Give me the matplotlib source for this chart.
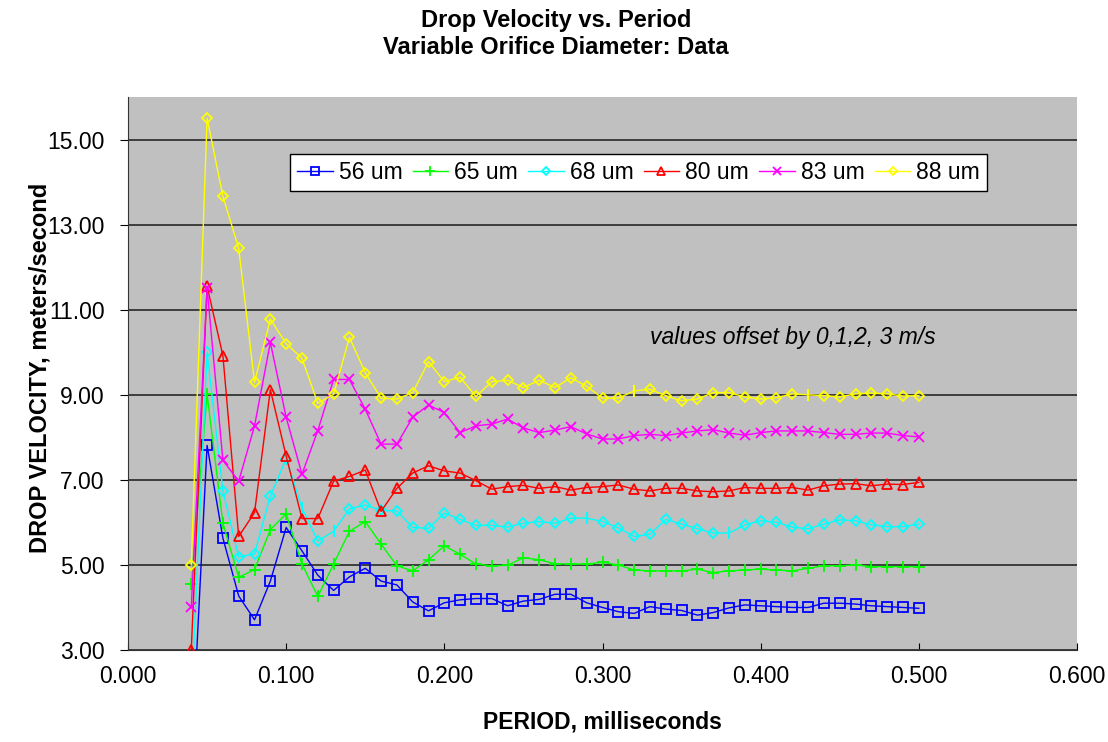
import numpy as np
import matplotlib
matplotlib.use('Agg')
import matplotlib.pyplot as plt
from matplotlib.ticker import FormatStrFormatter

plt.rcParams['font.family'] = ['Liberation Sans', 'DejaVu Sans']

# period, ms (0.04 .. 0.50 step 0.01)
period = [round(0.04 + 0.01 * k, 2) for k in range(47)]

v56 = [0.4, 7.81, 5.63, 4.27, 3.71, 4.62, 5.88, 5.33, 4.76, 4.40, 4.72, 4.92, 4.62, 4.53, 4.13, 3.92,
       4.11, 4.18, 4.21, 4.21, 4.04, 4.15, 4.19, 4.31, 4.31, 4.11, 4.00, 3.90, 3.86, 4.02, 3.96, 3.93,
       3.82, 3.88, 3.99, 4.06, 4.04, 4.02, 4.00, 4.00, 4.10, 4.10, 4.08, 4.04, 4.02, 4.00, 3.98]
v65 = [4.55, 9.01, 5.98, 4.71, 4.89, 5.83, 6.20, 5.02, 4.26, 5.02, 5.79, 6.02, 5.49, 4.98, 4.86, 5.12,
       5.45, 5.25, 5.02, 4.98, 4.99, 5.17, 5.12, 5.03, 5.02, 5.02, 5.06, 5.00, 4.88, 4.86, 4.86, 4.86,
       4.90, 4.82, 4.86, 4.88, 4.90, 4.88, 4.86, 4.92, 4.98, 4.98, 5.00, 4.96, 4.96, 4.96, 4.96]
v68 = [1.8, 10.0, 6.74, 5.19, 5.26, 6.62, 7.50, 6.34, 5.56, 5.79, 6.32, 6.41, 6.28, 6.27, 5.88, 5.86,
       6.22, 6.07, 5.93, 5.93, 5.89, 5.98, 6.02, 5.98, 6.10, 6.10, 6.02, 5.87, 5.67, 5.72, 6.07, 5.96,
       5.85, 5.75, 5.75, 5.94, 6.04, 6.00, 5.89, 5.85, 5.96, 6.06, 6.04, 5.94, 5.90, 5.90, 5.96]
v80 = [3.0, 11.55, 9.92, 5.67, 6.23, 9.12, 7.56, 6.09, 6.09, 6.97, 7.08, 7.23, 6.26, 6.80, 7.16, 7.33,
       7.21, 7.16, 6.98, 6.78, 6.84, 6.87, 6.80, 6.84, 6.76, 6.82, 6.84, 6.88, 6.78, 6.74, 6.80, 6.80,
       6.74, 6.72, 6.74, 6.82, 6.80, 6.80, 6.82, 6.76, 6.86, 6.90, 6.91, 6.86, 6.90, 6.89, 6.94]
v83 = [4.0, 11.51, 7.46, 6.97, 8.27, 10.23, 8.47, 7.13, 8.16, 9.36, 9.36, 8.66, 7.84, 7.84, 8.47, 8.76,
       8.58, 8.11, 8.27, 8.31, 8.43, 8.22, 8.11, 8.17, 8.25, 8.08, 7.96, 7.96, 8.04, 8.07, 8.04, 8.10,
       8.15, 8.18, 8.10, 8.05, 8.11, 8.15, 8.15, 8.15, 8.11, 8.07, 8.07, 8.10, 8.10, 8.04, 8.01]
v88 = [5.0, 15.5, 13.67, 12.44, 9.29, 10.78, 10.2, 9.86, 8.80, 9.01, 10.35, 9.52, 8.92, 8.90, 9.05, 9.78,
       9.31, 9.41, 8.96, 9.31, 9.34, 9.17, 9.34, 9.17, 9.40, 9.20, 8.92, 8.92, 9.09, 9.13, 8.98, 8.86,
       8.90, 9.05, 9.05, 8.95, 8.90, 8.93, 9.02, 9.00, 8.98, 8.95, 9.02, 9.04, 9.02, 8.97, 8.98]

labels = ['56 um', '65 um', '68 um', '80 um', '83 um', '88 um']
series = [v56, v65, v68, v80, v83, v88]
colors = ['#0000FF', '#00FF00', '#00FFFF', '#FF0000', '#FF00FF', '#FFFF00']
markers = ['s', '+', 'D', '^', 'x', 'D']
msizes = [6.5, 8, 5, 7, 7.5, 5]
# points that show a plain tick instead of the series marker
tick_pts = {2: [7, 9, 25, 34], 5: [28, 39]}

fig = plt.figure(figsize=(11.08, 7.42), dpi=100, facecolor='white')
ax = fig.add_axes([128 / 1108, 1 - 650 / 742, 949 / 1108, 553 / 742])
ax.set_facecolor('#C0C0C0')

for n in range(6):
    skip = tick_pts.get(n, [])
    keep = [k for k in range(len(period)) if k not in skip]
    ax.plot(period, series[n], color=colors[n], lw=1, marker=markers[n], ms=msizes[n],
            mfc='none', mec=colors[n], mew=1.3, markevery=keep, label=labels[n], zorder=3 + n)
    if skip:
        ax.plot([period[k] for k in skip], [series[n][k] for k in skip], ls='none',
                marker='|', ms=9, mec=colors[n], mew=1.5, zorder=3 + n)

ax.set_xlim(0, 0.6)
ax.set_ylim(3, 16)
ax.set_xticks(np.arange(0, 0.61, 0.1))
ax.set_yticks(np.arange(3, 16, 2))
ax.xaxis.set_major_formatter(FormatStrFormatter('%.3f'))
ax.yaxis.set_major_formatter(FormatStrFormatter('%.2f'))
ax.grid(axis='y', color='#333333', lw=1.3)
ax.set_axisbelow(True)
for s in ['top', 'right']:
    ax.spines[s].set_visible(False)
for s in ['left', 'bottom']:
    ax.spines[s].set_color('#333333')
ax.tick_params(labelsize=16.5, colors='black')
ax.tick_params(axis='y', direction='out', length=6, pad=11)
ax.tick_params(axis='x', direction='in', length=5, pad=11)

fig.text(602.5 / 1108, 1 - 722 / 742, 'PERIOD, milliseconds', fontsize=16.5,
         fontweight='bold', ha='center', va='center')
fig.text(40 / 1108, 1 - 368 / 742, 'DROP VELOCITY, meters/second', fontsize=17,
         fontweight='bold', ha='center', va='center', rotation=90)
fig.text(0.5 + 2 / 1108, 1 - 20 / 742, 'Drop Velocity vs. Period', fontsize=17,
         fontweight='bold', ha='center', va='center')
fig.text(0.5 + 2 / 1108, 1 - 47 / 742, 'Variable Orifice Diameter: Data', fontsize=17,
         fontweight='bold', ha='center', va='center')

leg = ax.legend(loc='center', bbox_to_anchor=(0.538, 0.864), ncol=6, fontsize=16.5,
                frameon=True, fancybox=False, edgecolor='black', framealpha=1,
                handlelength=1.55, handletextpad=0.26, columnspacing=0.45, borderpad=0.3,
                markerscale=0.85)
leg.get_frame().set_linewidth(1)

ax.text(0.55, 0.566, 'values offset by 0,1,2, 3 m/s', transform=ax.transAxes,
        fontsize=16.5, style='italic', va='center')

fig.savefig('out.png', dpi=100)
